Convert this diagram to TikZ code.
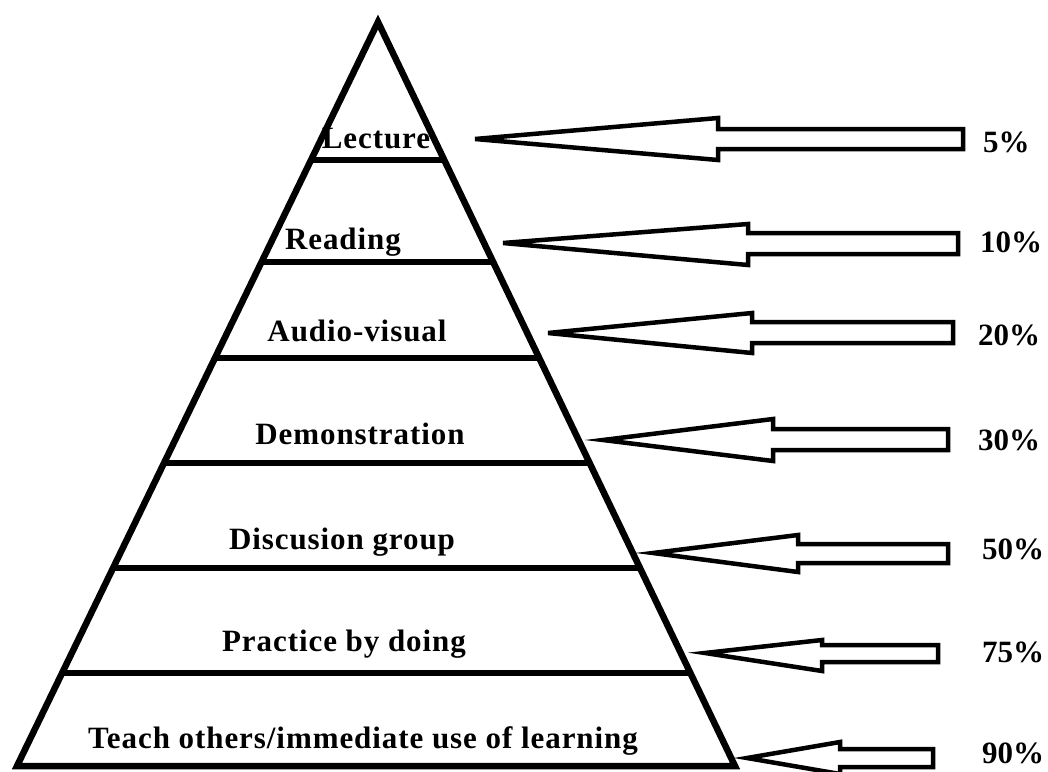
\documentclass[tikz,border=0pt]{standalone}
\usepackage{fontspec}
\setmainfont{Liberation Serif}
\usetikzlibrary{calc}

\begin{document}
\begin{tikzpicture}[x=1pt, y=-1pt,
    layer/.style={font=\bfseries\fontsize{31}{33}\selectfont\addfontfeature{LetterSpace=3}, inner sep=0pt, anchor=base},
    pct/.style={font=\bfseries\fontsize{31}{33}\selectfont, inner sep=0pt, anchor=base west},
    edge/.style={line width=6.5pt, line join=miter},
    hollow/.style={draw, line width=4.5pt, fill=white}
]
    \useasboundingbox (0,0) rectangle (1048,771);

    % Pyramid
    \coordinate (apex) at (378,22);
    \coordinate (bl) at (17,766);
    \coordinate (br) at (735,766);
    \draw[edge] (bl) -- (apex) -- (br) -- cycle;

    % Layer dividers
    \draw[edge] ($(apex)!0.1855!(bl)$) -- ($(apex)!0.1855!(br)$);
    \draw[edge] ($(apex)!0.3226!(bl)$) -- ($(apex)!0.3226!(br)$);
    \draw[edge] ($(apex)!0.4516!(bl)$) -- ($(apex)!0.4516!(br)$);
    \draw[edge] ($(apex)!0.5927!(bl)$) -- ($(apex)!0.5927!(br)$);
    \draw[edge] ($(apex)!0.7339!(bl)$) -- ($(apex)!0.7339!(br)$);
    \draw[edge] ($(apex)!0.875!(bl)$) -- ($(apex)!0.875!(br)$);

    % Layers
    \node[layer] (lecture) at (376,148) {Lecture};
    \node[layer] (reading) at (343,249) {Reading};
    \node[layer] (audio) at (357,341) {Audio-visual};
    \node[layer] (demo) at (360,444) {Demonstration};
    \node[layer] (discuss) at (342,549) {Discusion group};
    \node[layer] (practice) at (344,651) {Practice by doing};
    \node[layer] (teach) at (363,748) {Teach others/immediate use of learning};

    % Retention rates
    \node[pct] (p5) at (983,152) {5\%};
    \node[pct] (p10) at (980,252) {10\%};
    \node[pct] (p20) at (978,345) {20\%};
    \node[pct] (p30) at (978,450) {30\%};
    \node[pct] (p50) at (982,559) {50\%};
    \node[pct] (p75) at (982,662) {75\%};
    \node[pct] (p90) at (982,763) {90\%};

    % Block arrows
    \draw[hollow] (475,139) -- (718,118) -- (718,129) -- (963,129) -- (963,149) -- (718,149) -- (718,160) -- cycle;
    \draw[hollow] (503,243) -- (748,224) -- (748,233) -- (958,233) -- (958,254) -- (748,254) -- (748,265) -- cycle;
    \draw[hollow] (548,333) -- (752,313) -- (752,322) -- (953,322) -- (953,343) -- (752,343) -- (752,353) -- cycle;
    \draw[hollow] (603,440) -- (773,419) -- (773,429) -- (948,429) -- (948,450) -- (773,450) -- (773,461) -- cycle;
    \draw[hollow] (653,553) -- (798,535) -- (798,544) -- (948,544) -- (948,563) -- (798,563) -- (798,572) -- cycle;
    \draw[hollow] (705,653) -- (822,640) -- (822,645) -- (938,645) -- (938,662) -- (822,662) -- (822,671) -- cycle;
    \draw[hollow] (747,758) -- (840,742) -- (840,749) -- (933,749) -- (933,767) -- (840,767) -- (840,774) -- cycle;
\end{tikzpicture}
\end{document}
